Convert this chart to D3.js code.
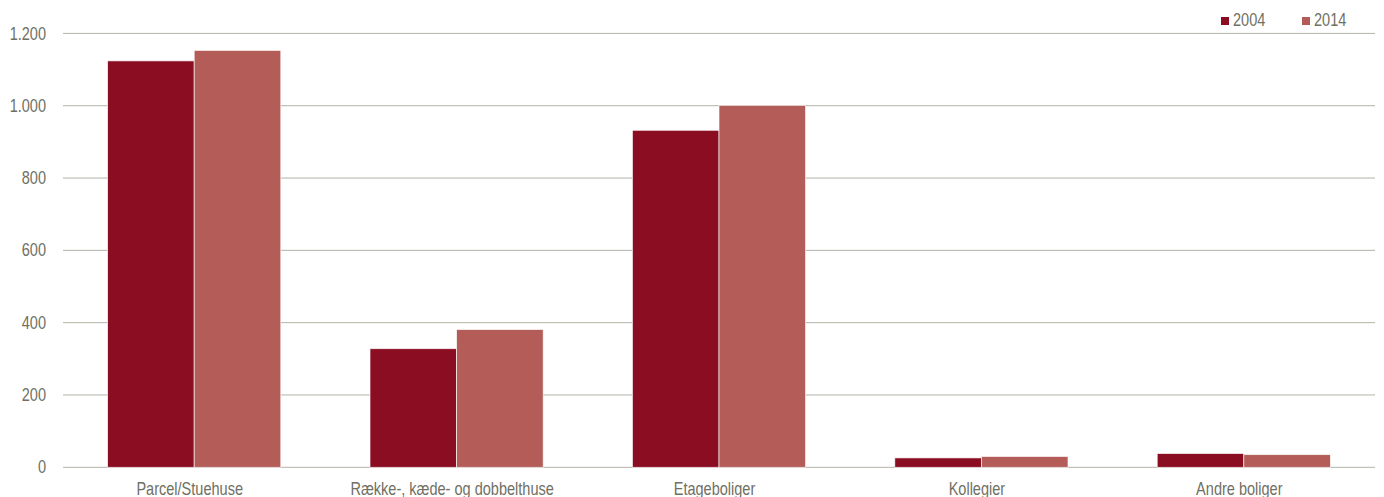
<!DOCTYPE html>
<html><head><meta charset="utf-8">
<script src="https://cdn.jsdelivr.net/npm/d3@7"></script>
<style>
body{margin:0;background:#fff;}
text{font-family:"Liberation Sans","Arial",sans-serif;fill:#707063;font-size:17.5px;}
</style></head><body>
<svg id="c" width="1384" height="497"></svg>
<script>
const categories = ["Parcel/Stuehuse","Række-, kæde- og dobbelthuse","Etageboliger","Kollegier","Andre boliger"];
const seriesNames = ["2004","2014"];
const values2004 = [1124, 328, 932, 26, 38];
const values2014 = [1153, 381, 1001, 30, 35];
const yTicks = [0,200,400,600,800,1000,1200];
const colors = ["#8a0d22","#b35c58"];

const svg = d3.select("#c");
const m = {l:63, r:9, t:33.4, b:29.7};
const W = 1384, H = 497;
const SX = 0.83; // narrow font emulation
const x0 = d3.scaleBand().domain(categories).range([m.l, W-m.r]).paddingInner(0.34).paddingOuter(0.17);
const x1 = d3.scaleBand().domain(seriesNames).range([0, x0.bandwidth()]).padding(0);
const y = d3.scaleLinear().domain([0,1200]).range([H-m.b, m.t]);
const fmt = v => d3.format(",")(v).replace(/,/g,".");
const narrow = (x,yy) => `translate(${x},${yy}) scale(${SX},1)`;

// grid
svg.append("g").selectAll("line").data(yTicks).join("line")
  .attr("x1", m.l).attr("x2", W-m.r)
  .attr("y1", d=>y(d)).attr("y2", d=>y(d))
  .attr("stroke","#b3b3a7").attr("stroke-width",1);
svg.append("g").selectAll("text").data(yTicks).join("text")
  .attr("transform", d=>narrow(46, y(d))).attr("dy","0.35em").attr("text-anchor","end")
  .text(fmt);

const data = categories.map((c,i)=>({c, vals:[values2004[i], values2014[i]]}));
const g = svg.append("g");
data.forEach(d=>{
  d.vals.forEach((v,j)=>{
    g.append("rect")
      .attr("x", x0(d.c)+x1(seriesNames[j]))
      .attr("width", x1.bandwidth())
      .attr("y", y(v)).attr("height", y(0)-y(v))
      .attr("fill", colors[j])
      .attr("stroke","#fff").attr("stroke-width",0.8).attr("stroke-opacity",0.8);
  });
});

svg.append("g").selectAll("text").data(categories).join("text")
  .attr("transform", d=>narrow(x0(d)+x0.bandwidth()/2-4.5, 494.5))
  .attr("text-anchor","middle").text(d=>d);

// legend
const leg = svg.append("g");
const lx = [1221, 1302];
seriesNames.forEach((s,j)=>{
  leg.append("rect").attr("x", lx[j]).attr("y", 17).attr("width",8).attr("height",8).attr("fill",colors[j]);
  leg.append("text").attr("transform", narrow(lx[j]+12, 26)).text(s);
});
</script></body></html>
